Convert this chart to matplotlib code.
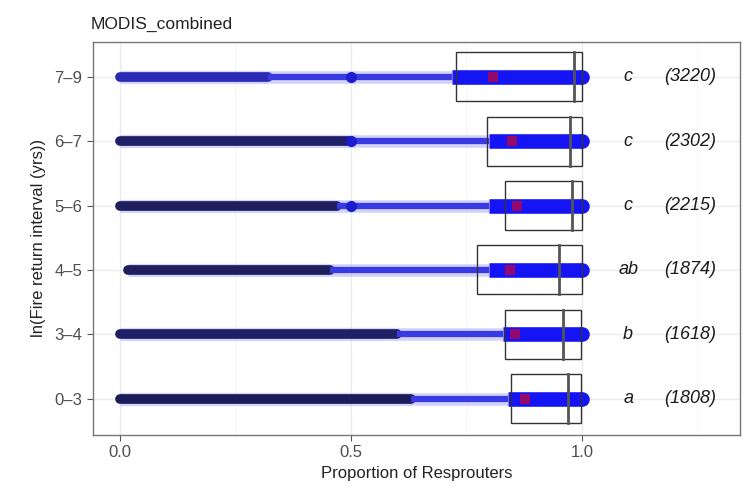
import numpy as np
import matplotlib.pyplot as plt
from matplotlib.patches import Rectangle

plt.rcParams['font.family'] = ['Liberation Sans', 'DejaVu Sans']

# Fire return interval classes, bottom to top
groups = ['0–3', '3–4', '4–5', '5–6', '6–7', '7–9']
counts = [1808, 1618, 1874, 2215, 2302, 3220]
letters = ['a', 'b', 'ab', 'c', 'c', 'c']

# box summaries of the proportion of resprouters
q1 = [0.846, 0.833, 0.773, 0.833, 0.794, 0.727]
median = [0.970, 0.959, 0.950, 0.978, 0.974, 0.983]
q3 = [0.998, 0.998, 1.0, 1.0, 1.0, 1.0]
mean = [0.877, 0.855, 0.844, 0.859, 0.848, 0.807]

# extent of the point strips along each row
x_min = [0.0, 0.0, 0.017, 0.0, 0.0, 0.0]
dark_end = [0.63, 0.60, 0.455, 0.47, 0.50, 0.32]
dense_start = [0.84, 0.83, 0.80, 0.80, 0.80, 0.72]
x_max = [1.0, 1.0, 1.0, 1.0, 1.0, 1.0]
blobs = [[], [], [], [0.5], [0.5], [0.5]]
dark_colors = ['#1c1c58', '#1f1f66', '#1e1e5c', '#1f1f5e', '#202066', '#2a2ab4']

fig = plt.figure(figsize=(7.49, 4.92), dpi=100)
ax = fig.add_axes([0.124, 0.116, 0.864, 0.799])

y = np.arange(len(groups))

for i in y:
    # dense low-proportion points
    ax.plot([x_min[i], dark_end[i]], [i, i], color='#7070ff', alpha=0.3,
            lw=9.5, solid_capstyle='butt', zorder=2)
    ax.plot([x_min[i], dark_end[i]], [i, i], color=dark_colors[i],
            lw=7, solid_capstyle='round', zorder=3)
    # sparser middle section
    ax.plot([dark_end[i], dense_start[i]], [i, i], color='#8c8cff', alpha=0.4,
            lw=9, solid_capstyle='butt', zorder=2)
    ax.plot([dark_end[i], dense_start[i]], [i, i], color='#3a3ae4',
            lw=4.5, solid_capstyle='butt', zorder=3)
    # dense high-proportion points
    ax.plot([dense_start[i], x_max[i]], [i, i], color='#1414f5',
            lw=10.5, solid_capstyle='butt', zorder=3)
    ax.plot(x_max[i], i, 'o', color='#1414f5', ms=10.5, mew=0, zorder=3)
    for b in blobs[i]:
        ax.plot(b, i, 'o', color='#1c1cd0', ms=8, mew=0, zorder=4)

    # box with median and mean
    h = 0.38
    ax.add_patch(Rectangle((q1[i], i - h), q3[i] - q1[i], 2 * h,
                           fill=False, ec='#333333', lw=1.0, zorder=5))
    ax.plot([median[i], median[i]], [i - h, i + h], color='#555555', lw=2.0, zorder=5)
    ax.plot(mean[i], i, 's', color='red', alpha=0.55, ms=7, mew=0, zorder=6)

    ax.text(1.10, i, letters[i], ha='center', va='center', fontsize=13,
            style='italic', color='#1a1a1a')
    ax.text(1.234, i, '(%d)' % counts[i], ha='center', va='center', fontsize=13,
            style='italic', color='#1a1a1a')

ax.set_xlim(-0.058, 1.342)
ax.set_ylim(-0.56, 5.54)
ax.set_xticks([0.0, 0.5, 1.0])
ax.set_xticklabels(['0.0', '0.5', '1.0'])
ax.set_xticks([0.25, 0.75, 1.25], minor=True)
ax.set_yticks(y)
ax.set_yticklabels(groups)

ax.grid(True, which='major', color='#ebebeb', lw=1.0, zorder=0)
ax.grid(True, which='minor', axis='x', color='#f4f4f4', lw=0.6, zorder=0)
ax.set_axisbelow(True)
ax.tick_params(which='major', length=4, color='#555555', labelcolor='#4d4d4d',
               labelsize=12)
ax.tick_params(which='minor', length=0)
for s in ax.spines.values():
    s.set_color('#777777')
    s.set_linewidth(1.0)

ax.set_xlabel('Proportion of Resprouters', fontsize=12, color='#222222', labelpad=4)
ax.set_ylabel('ln(Fire return interval (yrs))', fontsize=12, color='#222222', labelpad=6)
ax.set_title('MODIS_combined', loc='left', fontsize=12.5, color='#222222', pad=9, x=-0.004)

fig.savefig('out.png', dpi=100)
